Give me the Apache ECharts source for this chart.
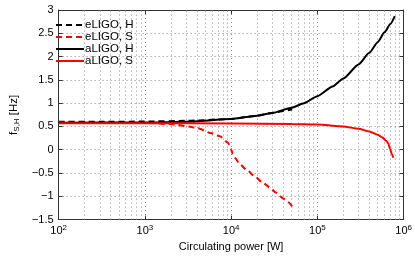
<!DOCTYPE html>
<html>
<head>
<meta charset="utf-8">
<script src="https://cdn.jsdelivr.net/npm/echarts@6/dist/echarts.min.js"></script>
<style>
  html, body { margin: 0; padding: 0; background: #fff; }
  #chart { width: 415px; height: 257px; }
</style>
</head>
<body>
<div id="chart"></div>
<script>
// values
const eHPower = [100, 300, 1000, 3000, 10000, 20000, 30000, 40000, 51000];
const eHFreq = [0.60, 0.60, 0.605, 0.62, 0.66, 0.73, 0.79, 0.83, 0.87];

const eSPower = [100, 1000, 2000, 3200, 4100, 5750, 7400, 9200, 10000, 10400, 11300, 12400,
  15300, 18900, 23300, 28900, 32800, 40600, 46000, 51000];
const eSFreq = [0.59, 0.575, 0.55, 0.5, 0.46, 0.36, 0.29, 0.15, 0.01, -0.09, -0.19, -0.3,
  -0.44, -0.58, -0.71, -0.83, -0.92, -1.05, -1.13, -1.22];

const aHPower = [100, 1000, 3000, 10000, 20000, 30000, 50000, 70000, 100000, 150000, 200000,
  300000, 400000, 500000, 600000, 700000, 790000];
const aHFreq = [0.58, 0.585, 0.6, 0.66, 0.73, 0.79, 0.9, 1.0, 1.15, 1.36, 1.53,
  1.83, 2.08, 2.31, 2.52, 2.7, 2.87];

const aSPower = [100, 1000, 10000, 50000, 100000, 200000, 300000, 400000, 500000, 560000,
  630000, 665000, 695000, 730000, 760000];
const aSFreq = [0.57, 0.57, 0.565, 0.555, 0.54, 0.5, 0.45, 0.39, 0.32, 0.27,
  0.19, 0.13, 0.02, -0.1, -0.17];

const legendNames = ['eLIGO, H', 'eLIGO, S', 'aLIGO, H', 'aLIGO, S'];
const decades = [100, 1000, 10000, 100000, 1000000];

const minorX = [];
decades.slice(0, -1).forEach(d => {
  for (let k = 2; k <= 9; k++) minorX.push(d * k);
});

const pairs = (xs, ys) => xs.map((x, i) => [x, ys[i]]);
const font = 'Liberation Sans, Arial, sans-serif';
const dotted = { type: [1, 3], color: '#8c8c8c', width: 1 };
const boxLine = { onZero: false, lineStyle: { color: '#333', width: 1 } };
const inTick = { show: true, inside: true, length: 4, lineStyle: { color: '#333' } };

const chart = echarts.init(document.getElementById('chart'), null, { renderer: 'canvas' });

function lineSeries(name, xs, ys, color, dashed) {
  return {
    name,
    type: 'line',
    data: pairs(xs, ys),
    showSymbol: false,
    symbol: 'none',
    smooth: 0.2,
    smoothMonotone: 'x',
    z: 5,
    lineStyle: { color, width: 2, type: dashed ? [6, 4] : 'solid' },
    itemStyle: { color }
  };
}

chart.setOption({
  animation: false,
  textStyle: { fontFamily: font },
  grid: { left: 44, right: 9, top: 10, bottom: 31 },
  legend: {
    data: legendNames,
    orient: 'vertical',
    left: 50,
    top: 14,
    itemWidth: 28,
    itemHeight: 10,
    itemGap: 0,
    itemStyle: { opacity: 0 },
    textStyle: { fontSize: 11.5, color: '#000', fontFamily: font, padding: [0, 0, 0, -4] }
  },
  xAxis: [{
    type: 'log',
    logBase: 10,
    min: 100,
    max: 1000000,
    name: 'Circulating power [W]',
    nameLocation: 'middle',
    nameGap: 17,
    nameTextStyle: { fontSize: 11, color: '#000' },
    axisLine: boxLine,
    axisTick: inTick,
    axisLabel: {
      color: '#000',
      margin: 4,
      formatter: v => '{b|10}{s|' + Math.round(Math.log10(v)) + '}',
      rich: {
        b: { fontSize: 11, color: '#000', fontFamily: font },
        s: { fontSize: 8, color: '#000', fontFamily: font, verticalAlign: 'top', padding: [0, 0, 6, 0] }
      }
    },
    splitLine: { show: true, lineStyle: dotted }
  }, {
    type: 'log',
    logBase: 10,
    min: 100,
    max: 1000000,
    position: 'top',
    axisLine: boxLine,
    axisTick: inTick,
    axisLabel: { show: false },
    splitLine: { show: false }
  }],
  yAxis: [{
    type: 'value',
    min: -1.5,
    max: 3,
    interval: 0.5,
    name: '{f|f}{s|S,H}{f| [Hz]}',
    nameLocation: 'middle',
    nameGap: 29,
    nameRotate: 90,
    nameTextStyle: {
      rich: {
        f: { fontSize: 11.5, color: '#000', fontFamily: font },
        s: { fontSize: 8, color: '#000', fontFamily: font, verticalAlign: 'bottom', padding: [6, 0, 0, 0] }
      }
    },
    axisLine: { show: true, onZero: false, lineStyle: { color: '#333' } },
    axisTick: inTick,
    axisLabel: {
      color: '#000',
      fontSize: 11,
      margin: 5,
      formatter: v => String(v).replace('-', '\u2212')
    },
    splitLine: { show: true, lineStyle: dotted }
  }, {
    type: 'value',
    min: -1.5,
    max: 3,
    interval: 0.5,
    position: 'right',
    axisLine: { show: true, onZero: false, lineStyle: { color: '#333' } },
    axisTick: inTick,
    axisLabel: { show: false },
    splitLine: { show: false }
  }],
  series: [
    {
      name: 'minor grid',
      type: 'line',
      data: [],
      z: 1,
      markLine: {
        silent: true,
        symbol: 'none',
        animation: false,
        label: { show: false },
        lineStyle: dotted,
        data: minorX.map(v => ({ xAxis: v }))
      }
    },
    lineSeries(legendNames[0], eHPower, eHFreq, '#000', true),
    lineSeries(legendNames[1], eSPower, eSFreq, '#ff0000', true),
    lineSeries(legendNames[2], aHPower, aHFreq, '#000', false),
    lineSeries(legendNames[3], aSPower, aSFreq, '#ff0000', false)
  ]
});
</script>
</body>
</html>
